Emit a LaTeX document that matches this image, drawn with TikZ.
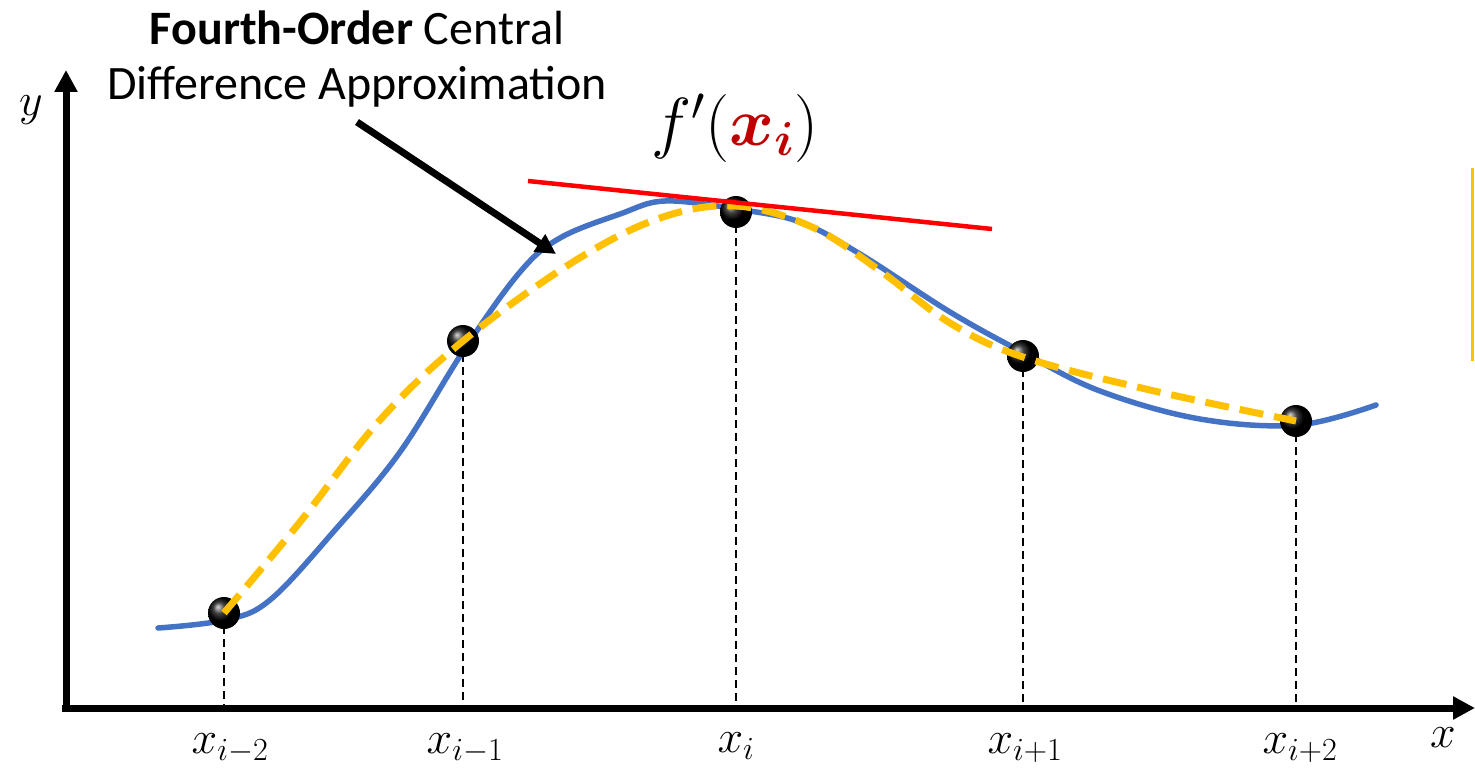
\RequirePackage{fix-cm}
\documentclass[tikz,border=0pt]{standalone}
\usepackage{amsmath}
\usepackage{fontspec}
\setmainfont{Carlito}
\usetikzlibrary{arrows.meta}
\definecolor{cblue}{HTML}{4472C4}
\definecolor{cyel}{HTML}{FFC000}
\definecolor{cred}{HTML}{FF0000}
\definecolor{dred}{HTML}{C00000}
\tikzset{
  axis/.style={line width=7pt,-{Triangle[length=22pt,width=22pt]}},
  pt/.style={circle,inner sep=0pt,minimum size=32pt,shading=ball,ball color=black},
  drop/.style={line width=1.5pt,dash pattern=on 8pt off 5pt},
  xlab/.style={font=\fontsize{46}{50}\selectfont},
  ttl/.style={font=\fontsize{48}{55}\selectfont,anchor=base},
}
\begin{document}
\begin{tikzpicture}[x=1pt,y=-1pt]
\useasboundingbox (0,0) rectangle (1475,773);
% axes
\coordinate (ytip) at (66,70);
\coordinate (xtip) at (1475,708);
\coordinate (xs) at (62,708);
\coordinate (ys) at (66,711);
\draw[axis] (xs) -- (xtip);
\draw[axis] (ys) -- (ytip);
\node[xlab] (ylab) at (31,110) {$y$};
\node[xlab] (xlab) at (1443,738) {$x$};
% points coordinates
\coordinate (c1) at (224,613);
\coordinate (c2) at (463,341);
\coordinate (c3) at (736,212);
\coordinate (c4) at (1023,356);
\coordinate (c5) at (1296,421);
\foreach \i/\xx in {1/224,2/463,3/736,4/1023,5/1296}{
  \coordinate (b\i) at (\xx,708);
  \draw[drop] (c\i) -- (b\i);
}
% blue curve
\draw[cblue,line width=5.5pt,line cap=round] plot[smooth,tension=0.6] coordinates {
 (158,628) (225,620) (270,600) (335,530) (400,452) (464,350) (520,272) (560,238) (620,214) (665,201) (736,209) (800,222) (860,254) (950,312) (1024,353) (1100,391) (1200,419) (1298,425) (1376,405)};
% points
\foreach \i in {1,...,5}{\node[pt] (p\i) at (c\i) {};}
% yellow dashed
\draw[cyel,line width=7pt,dash pattern=on 24pt off 11pt] plot[smooth,tension=0.6] coordinates {
 (224,613) (300,522) (380,420) (463,341) (573,262) (660,218) (736,206) (812,227) (879,270) (950,323) (1023,357) (1150,390) (1296,421)};
% tangent
\coordinate (t1) at (528,181);
\coordinate (t2) at (992,229);
\draw[cred,line width=4.5pt] (t1) -- (t2);
% labels
\node[xlab] (l1) at (230,748) {$x_{i-2}$};
\node[xlab] (l2) at (465,748) {$x_{i-1}$};
\node[xlab] (l3) at (736,746) {$x_{i}$};
\node[xlab] (l4) at (1025,748) {$x_{i+1}$};
\node[xlab] (l5) at (1300,748) {$x_{i+2}$};
\node[font=\fontsize{68}{72}\selectfont] (fp) at (735,128) {$f'(\textcolor{dred}{\boldsymbol{x_i}})$};
% title
\node[ttl] (title1) at (357,45) {\textbf{Fourth-Order} Central};
\node[ttl] (title2) at (357,100) {Difference Approximation};
\coordinate (as) at (357,122);
\coordinate (ae) at (556,254);
\draw[line width=7pt,-{Triangle[length=20pt,width=20pt]}] (as) -- (ae);
% stray yellow edge
\coordinate (e1) at (1472.5,168);
\coordinate (e2) at (1472.5,361);
\draw[cyel,line width=3pt] (e1) -- (e2);
\end{tikzpicture}
\end{document}
